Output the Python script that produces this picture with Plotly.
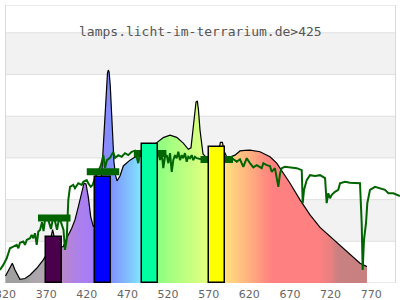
import plotly.graph_objects as go

# ---------------- data ----------------
# lamp spectrum (background gradient area), wavelength nm / relative value 0-100
lamp_nm = [320, 328.4, 331.7, 337.8, 344.0, 350.2, 358.4, 366.5, 372, 376, 378, 380, 384,
           391.1, 395.3, 401.5, 405.5, 409.6, 413.8, 416.6, 419.1, 421.9, 424.9, 428.1,
           432, 436, 439.4, 440.6, 442.5, 444.3, 445.5, 446.5, 447.5, 448.9, 450.6, 452.3,
           453.5, 455.4, 457.2, 460.9, 465.0, 473.2, 479.4, 485.5, 495, 502, 508.1, 514.2,
           522.5, 530.7, 538.8, 545.0, 548.3, 550.8, 552.6, 554.5, 556.1, 557.5, 559.4,
           561.5, 563.1, 566.8, 575, 582, 584.5, 587, 589, 592.2, 596.3, 602.5, 608.6,
           614.8, 620.9, 633.2, 645.5, 653.8, 661.9, 670.2, 682.5, 694.8, 707.1, 719.4,
           731.7, 744.0, 756.3, 764.9]
lamp_val = [2.5, 7.1, 4.7, 1.3, 1.6, 2.9, 5.3, 8.3, 11.0, 16.5, 19.2, 16.5, 12.5,
            13.1, 16.1, 19.7, 22.7, 27.4, 32.8, 35.9, 35.6, 31.0, 23.8, 20.3,
            22, 30, 44.2, 51.4, 62.2, 71.2, 75.5, 76.6, 75.9, 71.2, 62.2, 51.4,
            43.5, 38.8, 36.7, 38.5, 42.1, 44.2, 45.3, 45.7, 47.5, 49.5, 51.0, 52.3,
            53.2, 52.4, 50.3, 48.1, 48.6, 55.0, 61.5, 65.1, 65.5, 62.2, 55.0,
            49.6, 46.4, 45.3, 45.2, 47, 50.6, 50.6, 47.5, 45.4, 45.3, 46.0, 47.5,
            47.7, 47.8, 47.2, 45.4, 43.1, 39.5, 35.9, 29.9, 24.5, 20.0, 16.7,
            13.7, 10.1, 7.1, 5.9]

# colour of the spectrum along the wavelength axis
grad_nm = [320, 347, 352, 368, 390, 410, 428, 450, 460, 475, 487, 508, 520, 540, 560,
           568, 590, 600, 610, 625, 640, 650, 705, 720, 730, 765]
grad_col = ["#A0A0A0", "#A0A0A0", "#ABA6AB", "#B0A8B0", "#B987C8", "#AC80EC", "#A47CF8",
            "#8090FF", "#80A8FF", "#80C8FF", "#80E8FF", "#8CFF80", "#A0FF80", "#BCFF80",
            "#D8FF80", "#E4FF80", "#FFE080", "#FFD080", "#FFC080", "#FFA880", "#FF8C80",
            "#FF8080", "#FF8080", "#E88080", "#C88080", "#C88080"]

# reference (sun) spectrum - green line
sun_nm = [313.2, 317.3, 321.5, 325.5, 329.6, 333.8, 335.8, 337.8, 341.9, 344.0, 346.1,
          350.2, 352.2, 354.2, 356.3, 358.4, 360.4, 362.5, 364.9, 366.8, 368.6, 371.1,
          373.5, 376.0, 378.5, 380.9, 383.4, 385.8, 388.3, 391.4, 393.2, 395.3, 397.3,
          399.4, 403.4, 405.5, 409.6, 413.8, 415.8, 419.9, 421.9, 424.9, 427.3, 430.2,
          433.8, 437.5, 440.4, 442.5, 444.9, 448.6, 452.6, 454.8, 458.8, 463.0, 467.1,
          471.1, 475.3, 479.4, 483.4, 485.5, 487.6, 498.0, 508.1, 510.2, 512.3, 514.2,
          516.3, 518.4, 520.4, 522.5, 524.6, 526.5, 528.6, 530.7, 532.7, 534.8, 536.9,
          538.8, 540.9, 543.0, 545.0, 547.1, 549.2, 551.1, 553.2, 555.3, 565.7, 578.0,
          590.3, 600.2, 604.6, 608.6, 612.7, 616.9, 620.9, 625.0, 629.2, 631.1, 635.3,
          637.3, 641.5, 645.5, 647.6, 651.6, 653.7, 655.8, 657.9, 660.0, 664.0, 670.2,
          678.4, 684.6, 685.8, 687.4, 690.7, 694.8, 701.0, 707.1, 713.3, 715.3, 717.3,
          719.4, 721.5, 725.5, 729.6, 731.7, 737.8, 744.0, 752.3, 756.3, 758.4, 759.6,
          761.2, 763.7, 765.3, 768.6, 774.8, 780.9, 787.1, 791.2, 797.3, 805.5]
sun_val = [4.7, 6.5, 8.9, 12.5, 13.1, 13.7, 12.5, 14.5, 14.9, 13.7, 15.5,
           16.1, 17.3, 16.1, 17.9, 13.7, 18.5, 19.1, 21.9, 18.7, 22.7, 23.4,
           21.9, 19.4, 23.4, 22.3, 19.1, 23.0, 21.9, 19.1, 11.9, 15.5, 29.9,
           34.6, 35.3, 34.1, 35.9, 35.3, 36.4, 37.0, 35.9, 34.6, 35.3, 37.8,
           39.9, 42.4, 46.0, 41.4, 44.2, 45.0, 47.1, 45.0, 46.0, 45.4, 46.7,
           46.0, 47.2, 47.6, 43.1, 46.7, 47.8, 47.1, 47.2, 44.2, 46.7, 41.3,
           45.4, 46.0, 43.1, 46.7, 40.0, 44.2, 46.0, 44.9, 47.2, 44.2, 46.0,
           44.9, 46.7, 43.6, 45.4, 44.9, 46.0, 44.2, 45.4, 44.9, 44.2, 45.0,
           44.2, 44.6, 43.6, 44.5, 41.8, 44.9, 43.1, 41.6, 42.4, 42.1, 41.3,
           43.1, 42.4, 42.1, 40.0, 41.3, 38.2, 34.6, 39.5, 41.3, 41.8, 41.6,
           41.3, 40.6, 28.7, 33.5, 37.0, 38.8, 38.5, 38.8, 37.7, 28.7, 32.3,
           30.5, 31.7, 32.8, 33.5, 35.9, 36.4, 36.1, 36.1, 35.9, 21.5, 4.7,
           15.5, 21.5, 28.7, 33.5, 34.6, 34.1, 33.5, 32.3, 32.3, 31.3]

# LED bands (bars)
band_center = [380, 440, 498, 580]
band_value = [16.4, 38.0, 49.9, 49.0]
band_colors = ["#4B004B", "#0000FF", "#00FFA0", "#FFFF00"]
band_width = 20

# averaged reference value per band (thick green marks)
avg_center = [380, 440, 498, 580]
avg_value = [23.4, 40.0, 46.6, 44.4]
avg_width = 40

tick_vals = [320, 370, 420, 470, 520, 570, 620, 670, 720, 770]
grid_vals = [15, 30, 45, 60, 75, 90]
title_text = "lamps.licht-im-terrarium.de>425"

# ---------------- figure ----------------
X0, X1 = 320, 800
Y0, Y1 = 0, 100
W, H = 400, 300
left_px, right_px = 5.5, 395.5
span = (X1 - X0) / (right_px - left_px)
xr = [X0 - left_px * span, X1 + (W - right_px) * span]

g0, g1 = grad_nm[0], grad_nm[-1]
colorscale = [[(n - g0) / (g1 - g0), c] for n, c in zip(grad_nm, grad_col)]

fig = go.Figure()

fig.add_trace(go.Scatter(
    x=lamp_nm, y=lamp_val, mode="lines", fill="tozeroy",
    fillgradient=dict(type="horizontal", colorscale=colorscale, start=g0, stop=g1),
    line=dict(color="black", width=1.2), hoverinfo="skip"))

fig.add_trace(go.Scatter(
    x=sun_nm, y=sun_val, mode="lines",
    line=dict(color="#006400", width=2), hoverinfo="skip"))

seg_x, seg_y = [], []
for c, v in zip(avg_center, avg_value):
    seg_x += [c - avg_width / 2, c + avg_width / 2, None]
    seg_y += [v, v, None]
fig.add_trace(go.Scatter(x=seg_x, y=seg_y, mode="lines",
                         line=dict(color="#006400", width=7), hoverinfo="skip"))

fig.add_trace(go.Bar(
    x=band_center, y=band_value, width=[band_width] * len(band_center),
    marker=dict(color=band_colors, line=dict(color="black", width=1.5)),
    xaxis="x2", yaxis="y2", hoverinfo="skip"))

shapes = []
for i, g in enumerate([Y0] + grid_vals):
    if i % 2 == 1:
        top = grid_vals[i] if i < len(grid_vals) else Y1
        shapes.append(dict(type="rect", xref="x", yref="y", x0=X0, x1=X1, y0=g, y1=top,
                           fillcolor="#f2f2f2", line=dict(width=0), layer="below"))
for g in grid_vals:
    shapes.append(dict(type="line", xref="x", yref="y", x0=X0, x1=X1, y0=g, y1=g,
                       line=dict(color="#e0e0e0", width=1), layer="below"))
shapes.append(dict(type="rect", xref="x", yref="y", x0=X0, x1=X1, y0=Y0, y1=Y1,
                   line=dict(color="#d9d9d9", width=1), fillcolor="rgba(0,0,0,0)",
                   layer="below"))

fig.update_layout(
    template="none",
    width=W, height=H,
    margin=dict(l=0, r=0, t=5, b=17, pad=0),
    paper_bgcolor="white", plot_bgcolor="white",
    showlegend=False, hovermode=False,
    bargap=0,
    shapes=shapes,
    xaxis=dict(range=xr, showgrid=False, zeroline=False, showline=False,
               tickmode="array", tickvals=tick_vals, ticks="",
               ticklabeloverflow="allow", ticklabelstandoff=3,
               tickfont=dict(family="DejaVu Sans", size=11, color="#666666"),
               automargin=False, fixedrange=True),
    yaxis=dict(range=[Y0, Y1], showgrid=False, zeroline=False, showline=False,
               showticklabels=False, ticks="", automargin=False, fixedrange=True),
    xaxis2=dict(range=xr, overlaying="x", visible=False, fixedrange=True),
    yaxis2=dict(range=[Y0, Y1], overlaying="y", visible=False, fixedrange=True),
    annotations=[dict(text=title_text, xref="paper", yref="paper", x=0.5, y=0.903,
                      xanchor="center", yanchor="middle", showarrow=False,
                      font=dict(family="DejaVu Sans Mono", size=13, color="#555555"))],
)

fig.write_html("out.html")
